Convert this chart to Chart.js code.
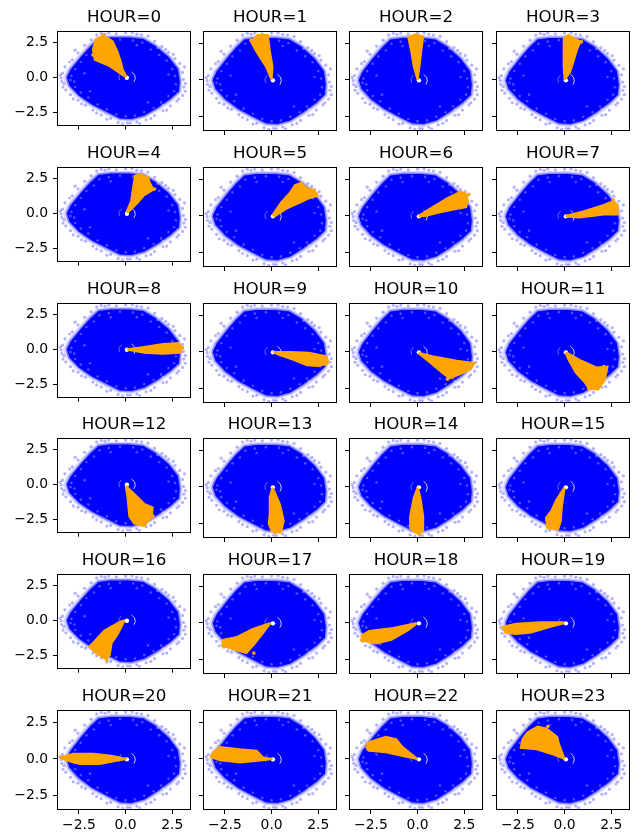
<!DOCTYPE html>
<html lang="en">
<head>
<meta charset="UTF-8">
<title>Hourly position scatter</title>
<script src="https://cdn.jsdelivr.net/npm/chart.js"></script>
<style>
    body { margin: 0; background: #fff; overflow: hidden; }
    #grid { position: relative; width: 641px; height: 834px; }
    #grid canvas { position: absolute; }
</style>
</head>
<body>
<div id="grid"></div>
<script>
    const hours = [0, 1, 2, 3, 4, 5, 6, 7, 8, 9, 10, 11, 12, 13, 14, 15, 16, 17, 18, 19, 20, 21, 22, 23];
    const tickValues = [-2.5, 0, 2.5];
    const xRange = [-3.62, 3.45];
    const yRange = [-3.4, 3.25];

    // outline of the whole cloud (sparse outer edge)
    const blueOuter = [[-3.35, -0.05], [-3.15, 0.6], [-2.6, 1.5], [-2.05, 2.35], [-1.55, 2.95], [-0.8, 3.05], [0.3, 3.05],
        [1.0, 2.95], [1.75, 2.35], [2.5, 1.5], [2.95, 0.6], [3.05, -0.3], [3.0, -1.1], [2.55, -1.7], [1.85, -2.35],
        [1.1, -2.9], [0.35, -3.2], [-0.35, -3.15], [-1.1, -2.7], [-1.95, -2.1], [-2.7, -1.4], [-3.2, -0.65]];

    // outline of the dense core
    const blueDense = [[-3.15, 0.0], [-2.95, 0.55], [-2.4, 1.45], [-1.9, 2.2], [-1.45, 2.75], [-0.8, 2.85], [0.2, 2.85],
        [0.95, 2.75], [1.6, 2.25], [2.3, 1.45], [2.8, 0.6], [2.9, -0.3], [2.85, -1.0], [2.4, -1.55], [1.7, -2.2],
        [1.0, -2.75], [0.3, -3.0], [-0.3, -2.95], [-1.0, -2.5], [-1.8, -1.95], [-2.5, -1.3], [-3.0, -0.6]];

    // loose points along the edge of the cloud
    const blueFringe = [[-3.45, -0.05], [-3.38, 0.3], [-3.3, -0.45], [-3.25, 0.75], [-2.85, 1.25], [-2.55, 1.75],
        [-2.2, 2.3], [-1.85, 2.7], [-1.55, 3.05], [-1.1, 3.1], [-0.5, 3.12], [0.0, 3.18], [0.6, 3.1],
        [1.2, 2.95], [1.55, 2.6], [1.95, 2.2], [2.3, 1.8], [2.65, 1.35], [2.9, 1.0], [3.05, 0.35],
        [3.1, -0.15], [3.12, -0.7], [3.05, -1.3], [2.75, -1.7], [2.4, -2.05], [2.0, -2.4], [1.55, -2.75],
        [1.1, -3.05], [0.6, -3.2], [0.1, -3.28], [-0.4, -3.25], [-0.8, -2.95], [-1.3, -2.7], [-1.75, -2.35],
        [-2.15, -2.0], [-2.55, -1.65], [-2.95, -1.25], [-3.2, -0.9], [-3.0, 1.1], [0.25, -3.3], [-0.9, 3.18], [3.2, -0.45],
        [-3.5, 0.15], [-3.42, -0.3], [-2.7, 1.95], [-1.3, 3.15], [0.35, 3.2], [0.85, 3.05], [2.15, 2.0], [2.55, 1.65],
        [3.15, 0.75], [3.2, -1.0], [2.85, -1.55], [2.2, -2.35], [1.35, -2.95], [0.75, -3.32], [-0.15, -3.35],
        [-1.0, -3.0], [-1.55, -2.55], [-2.35, -1.9], [-2.8, -1.55], [-3.35, -0.7]];

    // lighter specks inside the dense core near its edge
    const blueSpecks = [[-2.9, 0.1], [-2.7, 0.6], [-2.75, -0.3], [-2.4, 1.1], [-2.1, 1.6], [-1.7, 2.0], [-1.4, 2.45],
        [-0.9, 2.6], [-0.3, 2.7], [0.4, 2.65], [0.9, 2.5], [1.35, 2.0], [1.8, 1.6], [2.2, 1.2], [2.5, 0.6],
        [2.65, 0.1], [2.7, -0.5], [2.6, -1.0], [2.3, -1.35], [1.9, -1.8], [1.5, -2.2], [1.0, -2.5], [0.5, -2.75],
        [0.0, -2.8], [-0.5, -2.65], [-1.0, -2.3], [-1.5, -1.95], [-2.0, -1.45], [-2.4, -1.1], [-2.7, -0.7],
        [-2.2, 0.3], [-1.9, -1.0], [1.2, -1.8], [2.3, 0.2], [-0.8, 2.3], [0.6, 2.3], [-1.2, -2.6], [2.0, -2.0],
        [-2.95, -0.2], [1.7, 2.1]];

    const whiteDot = [[0.07, -0.03]];
    const whiteArcRight = [[0.32, 0.38], [0.48, 0.18], [0.52, -0.08], [0.45, -0.32]];
    const whiteArcLeft = [[-0.22, 0.33], [-0.36, 0.08], [-0.32, -0.2]];

    // orange wedge outlines, one per hour
    const orangeWedges = [
        [[0.05, 0.05], [-0.15, 0.55], [-0.25, 1.1], [-0.45, 1.9], [-0.7, 2.6], [-1.2, 3.0], [-1.6, 2.7], [-1.75, 2.0], [-1.65, 1.25], [-0.85, 0.8], [-0.1, 0.1]],
        [[0.0, 0.0], [-0.3, 0.9], [-0.85, 2.0], [-1.1, 2.6], [-0.75, 3.05], [-0.2, 3.05], [-0.1, 2.0], [0.05, 0.9]],
        [[0.0, 0.0], [-0.2, 0.9], [-0.35, 2.0], [-0.5, 2.9], [-0.1, 3.1], [0.3, 2.95], [0.2, 2.0], [0.1, 0.9]],
        [[0.0, 0.0], [-0.05, 0.9], [-0.05, 2.0], [-0.05, 2.8], [0.2, 3.05], [0.85, 2.6], [0.65, 2.0], [0.5, 1.35], [0.3, 0.55]],
        [[0.05, 0.1], [0.3, 0.9], [0.4, 1.8], [0.5, 2.7], [0.75, 2.8], [1.2, 2.6], [1.3, 2.2], [1.5, 1.7], [1.0, 1.3], [0.6, 0.7], [0.15, 0.1]],
        [[0.05, 0.05], [0.5, 0.9], [1.0, 1.6], [1.25, 2.1], [1.6, 2.25], [1.85, 1.9], [2.3, 1.75], [2.45, 1.35], [2.0, 1.2], [1.6, 0.95], [0.8, 0.5], [0.2, 0.0]],
        [[0.05, 0.0], [0.8, 0.6], [1.6, 1.2], [2.3, 1.65], [2.6, 1.5], [2.7, 1.0], [2.6, 0.6], [2.0, 0.45], [1.2, 0.25], [0.4, 0.0]],
        [[0.05, 0.0], [1.0, 0.3], [2.1, 0.75], [2.6, 1.0], [2.85, 0.75], [2.85, 0.1], [2.1, 0.1], [0.8, -0.1], [0.2, -0.05]],
        [[0.1, 0.0], [0.9, 0.15], [2.0, 0.38], [2.8, 0.45], [3.0, 0.2], [2.95, -0.25], [2.0, -0.32], [1.0, -0.25], [0.2, -0.05]],
        [[0.1, 0.0], [1.0, 0.0], [2.0, -0.05], [2.95, -0.3], [3.0, -0.8], [2.5, -0.95], [1.9, -0.9], [1.2, -0.55], [0.3, -0.15]],
        [[0.05, -0.05], [0.8, -0.3], [2.1, -0.6], [3.05, -0.75], [2.85, -1.15], [2.2, -1.55], [1.7, -1.8], [1.3, -1.4], [0.7, -0.75], [0.15, -0.2]],
        [[0.05, -0.05], [0.2, -0.5], [0.6, -1.4], [1.1, -2.1], [1.3, -2.5], [1.8, -2.55], [2.15, -1.9], [2.3, -1.0], [1.7, -1.05], [0.9, -0.6], [0.2, -0.1]],
        [[0.0, -0.1], [0.1, -0.9], [0.2, -2.3], [0.45, -2.8], [1.0, -3.0], [1.4, -2.35], [1.45, -1.65], [1.0, -1.4], [0.4, -0.6]],
        [[0.05, -0.05], [-0.1, -0.7], [-0.1, -1.8], [-0.15, -2.5], [0.0, -3.0], [0.5, -3.1], [0.65, -2.3], [0.45, -1.2], [0.15, -0.3]],
        [[0.0, -0.05], [-0.2, -0.7], [-0.4, -2.0], [-0.4, -2.8], [-0.05, -3.15], [0.3, -3.0], [0.3, -2.0], [0.15, -0.7]],
        [[0.0, -0.05], [-0.15, -1.4], [-0.2, -2.3], [-0.35, -2.9], [-0.9, -2.8], [-1.0, -2.1], [-0.7, -1.6], [-0.45, -0.9], [-0.1, -0.2]],
        [[-0.05, 0.0], [-0.4, -0.95], [-0.75, -1.65], [-0.85, -2.5], [-1.05, -2.8], [-1.6, -2.35], [-1.95, -1.9], [-1.7, -1.55], [-1.15, -0.75], [-0.3, -0.1]],
        [[-0.05, 0.0], [-1.0, -0.4], [-1.85, -0.95], [-2.6, -1.15], [-2.65, -1.55], [-1.85, -1.85], [-1.35, -2.05], [-0.9, -1.4], [-0.35, -0.5]],
        [[-0.05, 0.0], [-1.3, -0.35], [-2.6, -0.55], [-3.0, -0.85], [-2.95, -1.2], [-2.2, -1.4], [-1.4, -1.15], [-0.5, -0.5], [-0.1, -0.1]],
        [[-0.05, 0.05], [-1.3, 0.05], [-2.6, -0.05], [-3.25, -0.25], [-3.2, -0.65], [-2.6, -0.75], [-1.8, -0.65], [-0.7, -0.25], [-0.1, -0.05]],
        [[0.05, 0.0], [-0.7, 0.2], [-1.7, 0.35], [-2.8, 0.35], [-3.35, 0.15], [-3.45, 0.05], [-3.15, -0.1], [-2.45, -0.35], [-1.4, -0.35], [-0.5, -0.12]],
        [[0.05, 0.0], [-0.45, 0.1], [-0.8, 0.55], [-1.7, 0.65], [-2.75, 0.8], [-3.15, 0.45], [-3.25, 0.1], [-2.75, -0.1], [-1.7, -0.25], [-0.6, -0.1]],
        [[0.0, 0.0], [-0.8, 0.8], [-1.15, 1.35], [-1.7, 1.5], [-2.55, 1.15], [-2.75, 0.8], [-2.6, 0.55], [-1.7, 0.45], [-0.8, 0.2]],
        [[0.0, 0.0], [-0.3, 1.0], [-0.4, 1.5], [-0.95, 2.05], [-1.45, 2.2], [-2.0, 1.8], [-2.25, 1.35], [-2.35, 0.75], [-1.5, 0.65], [-0.6, 0.3]]
    ];

    // stray orange points outside the wedges
    const orangeStray = [
        [[-1.2, 3.05], [-1.75, 1.6]], [[-1.1, 2.7]], [], [[0.9, 2.6]],
        [[1.55, 1.75]], [[2.4, 1.5]], [[2.75, 1.45]], [[2.6, 1.1]],
        [[3.05, 0.1]], [[3.0, -0.6]], [[1.6, -1.85], [1.85, -1.7]], [[1.3, -2.5], [2.1, -1.0]],
        [[1.45, -2.3]], [[0.2, -3.1]], [[0.1, -3.2]], [[-0.9, -2.75]],
        [[-1.0, -2.85]], [[-2.6, -1.55], [-0.95, -2.05]], [[-3.0, -1.15]], [[-3.3, -0.3]],
        [[-3.45, 0.1]], [[-3.2, 0.2]], [[-2.7, 1.05]], [[-2.2, 1.3], [-0.9, 2.2]]
    ];

    // frame placement on the page
    const frameLeft = [58, 204, 350, 497];
    const frameTop = [32, 168, 304, 439, 575, 711];
    const FRAME_W = 132, FRAME_H = 98, TITLE_H = 32;

    const pts = arr => arr.map(p => ({ x: p[0], y: p[1] }));
    const closed = arr => pts(arr.concat([arr[0]]));
    const fmt = v => v.toFixed(1).replace('-', '\u2212');

    // axes box drawn on top, like matplotlib spines
    const frameBox = {
        id: 'frameBox',
        afterDraw(chart) {
            const { ctx, chartArea: a } = chart;
            ctx.save();
            ctx.strokeStyle = '#000';
            ctx.lineWidth = 1;
            ctx.strokeRect(Math.round(a.left) - 0.5, Math.round(a.top) - 0.5,
                Math.round(a.right) - Math.round(a.left) + 1, Math.round(a.bottom) - Math.round(a.top) + 1);
            ctx.restore();
        }
    };

    function axis(range, size, showLabels, isX) {
        return {
            type: 'linear',
            min: range[0],
            max: range[1],
            afterBuildTicks: s => { s.ticks = tickValues.map(v => ({ value: v })); },
            afterFit: s => { if (isX) s.height = size; else s.width = size; },
            border: { display: false },
            grid: { drawOnChartArea: false, drawTicks: true, tickLength: 5, color: '#000', lineWidth: 1 },
            ticks: {
                display: showLabels,
                color: '#000',
                font: { family: 'DejaVu Sans', size: 13.9 },
                padding: isX ? 3 : 5,
                maxRotation: 0,
                autoSkip: false,
                callback: v => fmt(v)
            }
        };
    }

    const grid = document.getElementById('grid');

    hours.forEach((h, i) => {
        const col = i % 4, row = Math.floor(i / 4);
        const yw = col === 0 ? 58 : 8;
        const xh = row === 5 ? 26 : 8;

        const canvas = document.createElement('canvas');
        canvas.width = yw + FRAME_W + yw;
        canvas.height = TITLE_H + FRAME_H + xh;
        canvas.style.left = (frameLeft[col] - yw) + 'px';
        canvas.style.top = (frameTop[row] - TITLE_H) + 'px';
        grid.appendChild(canvas);

        new Chart(canvas.getContext('2d'), {
            type: 'scatter',
            data: {
                datasets: [
                    { data: pts(orangeStray[i]), order: 0, pointRadius: 1.8, pointBackgroundColor: '#ffa500', pointBorderWidth: 0 },
                    { data: closed(orangeWedges[i]), order: 1, showLine: true, fill: 'shape', tension: 0,
                      backgroundColor: '#ffa500', borderColor: '#ffa500', borderWidth: 2, pointRadius: 0 },
                    { data: pts(whiteDot), order: 2, pointRadius: 2.2, pointBackgroundColor: '#fff', pointBorderWidth: 0 },
                    { data: pts(whiteArcRight), order: 3, showLine: true, borderColor: 'rgba(255,255,255,0.8)', borderWidth: 1, pointRadius: 0 },
                    { data: pts(whiteArcLeft), order: 3, showLine: true, borderColor: 'rgba(255,255,255,0.4)', borderWidth: 1, pointRadius: 0 },
                    { data: pts(blueSpecks), order: 3, pointRadius: 1.3, pointBackgroundColor: 'rgba(255,255,255,0.3)', pointBorderWidth: 0 },
                    { data: closed(blueDense), order: 4, showLine: true, fill: 'shape', tension: 0,
                      backgroundColor: '#0000ff', borderColor: 'rgba(0,0,255,0.4)', borderWidth: 3, pointRadius: 0 },
                    { data: closed(blueOuter), order: 5, showLine: true, fill: 'shape', tension: 0,
                      backgroundColor: 'rgba(0,0,255,0.15)', borderWidth: 0, pointRadius: 0 },
                    { data: pts(blueFringe), order: 6, pointRadius: 1.6, pointBackgroundColor: 'rgba(0,0,255,0.3)', pointBorderWidth: 0 }
                ]
            },
            options: {
                responsive: false,
                animation: false,
                events: [],
                plugins: {
                    legend: { display: false },
                    tooltip: { enabled: false },
                    title: {
                        display: true,
                        text: 'HOUR=' + h,
                        color: '#000',
                        font: { family: 'DejaVu Sans', size: 16.7, weight: 'normal', lineHeight: 1.2 },
                        padding: { top: 8, bottom: 4 }
                    }
                },
                scales: {
                    x: axis(xRange, xh, row === 5, true),
                    y: axis(yRange, yw, col === 0, false),
                    // empty right-hand axis keeps the frame centred under the title
                    yPad: {
                        position: 'right',
                        display: true,
                        grid: { display: false },
                        border: { display: false },
                        ticks: { display: false },
                        afterFit: s => { s.width = yw; }
                    }
                }
            },
            plugins: [frameBox]
        });
    });
</script>
</body>
</html>
